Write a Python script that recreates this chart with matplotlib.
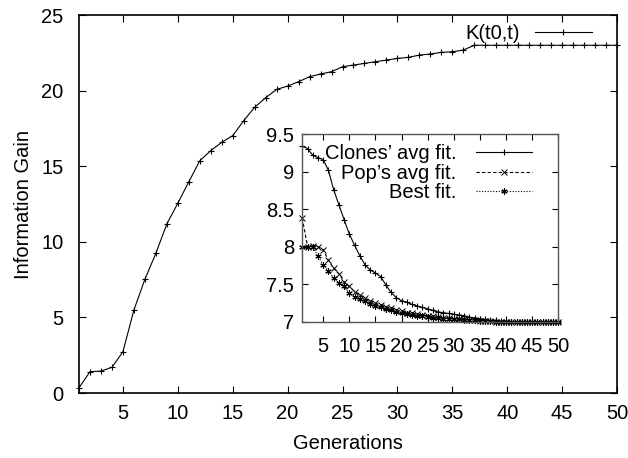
"""
information gain over generations, with fitness inset
"""
import numpy as np
from matplotlib import pyplot as plt

plt.rcParams['font.family'] = ['Liberation Sans', 'DejaVu Sans']
plt.rcParams['font.size'] = 14.5

generations = np.arange(1, 51)

k_gain = [0.35, 1.41, 1.45, 1.70, 2.73, 5.49, 7.52, 9.24, 11.18, 12.55,
          13.97, 15.36, 16.03, 16.58, 17.02, 18.01, 18.90, 19.53, 20.08, 20.30,
          20.59, 20.92, 21.10, 21.25, 21.58, 21.69, 21.80, 21.91, 22.02, 22.13,
          22.20, 22.35, 22.42, 22.53, 22.57, 22.68, 23.0, 23.0, 23.0, 23.0,
          23.0, 23.0, 23.0, 23.0, 23.0, 23.0, 23.0, 23.0, 23.0, 23.0]

clones_fit = [9.34, 9.31, 9.22, 9.19, 9.16, 9.02, 8.76, 8.56, 8.36, 8.17,
              8.02, 7.88, 7.76, 7.69, 7.65, 7.60, 7.49, 7.39, 7.32, 7.28,
              7.26, 7.23, 7.21, 7.19, 7.17, 7.15, 7.13, 7.12, 7.11, 7.10,
              7.09, 7.08, 7.06, 7.05, 7.04, 7.03, 7.02, 7.02, 7.01, 7.01,
              7.0, 7.0, 7.0, 7.0, 7.0, 7.0, 7.0, 7.0, 7.0, 7.0]

pop_fit = [8.38, 8.00, 8.01, 8.00, 7.96, 7.82, 7.71, 7.64, 7.53, 7.47,
           7.40, 7.36, 7.31, 7.28, 7.25, 7.22, 7.20, 7.18, 7.16, 7.14,
           7.12, 7.11, 7.10, 7.09, 7.08, 7.07, 7.06, 7.05, 7.05, 7.04,
           7.03, 7.03, 7.02, 7.02, 7.01, 7.01, 7.01, 7.0, 7.0, 7.0,
           7.0, 7.0, 7.0, 7.0, 7.0, 7.0, 7.0, 7.0, 7.0, 7.0]

best_fit = [8.00, 8.00, 8.00, 7.87, 7.76, 7.68, 7.58, 7.52, 7.47, 7.38,
            7.33, 7.30, 7.27, 7.24, 7.21, 7.19, 7.17, 7.15, 7.13, 7.12,
            7.10, 7.09, 7.08, 7.07, 7.06, 7.05, 7.05, 7.04, 7.04, 7.03,
            7.03, 7.02, 7.02, 7.02, 7.01, 7.01, 7.01, 7.0, 7.0, 7.0,
            7.0, 7.0, 7.0, 7.0, 7.0, 7.0, 7.0, 7.0, 7.0, 7.0]

main_ticks_x = [5, 10, 15, 20, 25, 30, 35, 40, 45, 50]
main_ticks_y = [0, 5, 10, 15, 20, 25]
inset_ticks_y = [7, 7.5, 8, 8.5, 9, 9.5]

fig = plt.figure(figsize=(6.28, 4.58), dpi=100)
ax = fig.add_axes([0.1258, 0.1419, 0.8567, 0.8253])
ax.plot(generations, k_gain, color="black", lw=0.8, marker="+", ms=4.5,
        mew=0.8, label="K(t0,t)", clip_on=False)
ax.set_xlim(1, 50)
ax.set_ylim(0, 25)
ax.set_xticks(main_ticks_x)
ax.set_yticks(main_ticks_y)
ax.tick_params(direction="in", top=True, right=True, length=5, width=0.8)
ax.tick_params(axis="x", pad=8)
ax.tick_params(axis="y", pad=11)
for s in ax.spines.values():
    s.set_linewidth(1.2)
ax.set_xlabel("Generations", labelpad=8)
ax.set_ylabel("Information Gain", labelpad=6)
ax.legend(loc="upper right", bbox_to_anchor=(0.9535, 0.977), frameon=False,
          markerfirst=False, handlelength=2.85, borderaxespad=0, borderpad=0,
          handletextpad=0.75)

ins = fig.add_axes([0.4814, 0.2976, 0.4076, 0.4092])
ins.plot(generations, clones_fit, color="black", lw=0.8, ls="-", marker="+",
         ms=4.5, mew=0.8, label="Clones\u2019 avg fit.", clip_on=False)
ins.plot(generations, pop_fit, color="black", lw=0.8, ls=(0, (3, 2)), marker="x",
         ms=3.8, mew=0.7, label="Pop\u2019s avg fit.", clip_on=False)
ins.plot(generations, best_fit, color="black", lw=0.8, ls=(0, (1, 1.5)), marker=(6, 2, 0),
         ms=4.5, mew=0.8, label="Best fit.", clip_on=False)
ins.set_xlim(1, 50)
ins.set_ylim(7, 9.5)
ins.set_xticks(main_ticks_x)
ins.set_yticks(inset_ticks_y)
ins.set_yticklabels(["7", "7.5", "8", "8.5", "9", "9.5"])
ins.tick_params(direction="in", top=True, right=True, length=4, width=0.8)
ins.tick_params(axis="x", pad=11)
ins.tick_params(axis="y", pad=6)
for s in ins.spines.values():
    s.set_linewidth(1.0)
    s.set_color("#555555")
ins.legend(loc="upper right", bbox_to_anchor=(0.897, 0.947), frameon=False,
           markerfirst=False, handlelength=2.8, borderaxespad=0, borderpad=0,
           handletextpad=0.95, labelspacing=0.02)

plt.savefig("out.png", dpi=100)
